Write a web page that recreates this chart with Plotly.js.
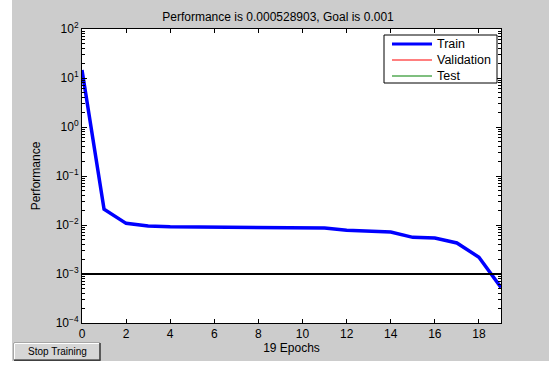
<!DOCTYPE html>
<html>
<head>
<meta charset="utf-8">
<script src="https://cdn.plot.ly/plotly-3.0.1.min.js"></script>
<style>html,body{margin:0;padding:0;background:#fff;}#chart{width:549px;height:365px;}</style>
</head>
<body>
<div id="chart"></div>
<script>
// ---- data ----
const epochs = [0,1,2,3,4,5,6,7,8,9,10,11,12,13,14,15,16,17,18,19];
const trainPerf = [14.6,0.021,0.0108,0.0095,0.0092,0.0091,0.0090,0.0090,0.0089,0.0089,0.0088,0.0087,0.0078,0.0075,0.0072,0.0056,0.0054,0.0043,0.0022,0.000529];
const goalX = [0, 19];
const goalY = [0.001, 0.001];
const seriesNames = ["Train", "Validation", "Test"];
const seriesColors = ["#0000ff", "#ff0000", "#008000"];
const xTicks = [0,2,4,6,8,10,12,14,16,18];
const yTicks = [1e-4,1e-3,1e-2,1e-1,1,10,100];
const yTickText = ["10<sup>−4</sup>","10<sup>−3</sup>","10<sup>−2</sup>","10<sup>−1</sup>","10<sup>0</sup>","10<sup>1</sup>","10<sup>2</sup>"];
const titleText = "Performance is 0.000528903, Goal is 0.001";
const xTitle = "19 Epochs";
const yTitle = "Performance";
const buttonText = "Stop Training";

// minor log ticks (2..9 in each decade)
const minorVals = [];
for (let k = -4; k < 2; k++) for (let m = 2; m <= 9; m++) minorVals.push(m * Math.pow(10, k));

const W = 549, H = 365;
const L = 82, R = 501, T = 29, B = 323;
const px = v => (v - L) / (R - L);
const py = v => (B - v) / (B - T);

const font = "Liberation Sans, Arial, sans-serif";

const traces = [
  {x: epochs, y: trainPerf, type: "scatter", mode: "lines", name: seriesNames[0], showlegend: false, line: {color: seriesColors[0], width: 3.5}},
  {x: goalX, y: goalY, type: "scatter", mode: "lines", name: "Goal", showlegend: false, line: {color: "#000000", width: 2}}
];

// legend (drawn as shapes + text in the MATLAB style)
const legShapes = [
  {type: "rect", xref: "paper", yref: "paper", x0: px(384), x1: px(497), y0: py(83), y1: py(35), fillcolor: "#ffffff", line: {color: "#000", width: 1}, layer: "above"}
];
const legAnn = [];
seriesNames.forEach((n, i) => {
  const yy = 44 + i * 16;
  legShapes.push({type: "line", xref: "paper", yref: "paper", x0: px(392), x1: px(432), y0: py(yy), y1: py(yy), line: {color: seriesColors[i], width: i === 0 ? 3 : 1.2}, layer: "above"});
  legAnn.push({text: n, xref: "paper", yref: "paper", x: px(435), y: py(yy), xanchor: "left", yanchor: "middle", showarrow: false, font: {family: font, size: 12.5, color: "#000"}});
});

const layout = {
  width: W, height: H,
  margin: {l: L, r: W - R, t: T, b: H - B, pad: 0},
  paper_bgcolor: "#cccccc",
  plot_bgcolor: "#ffffff",
  font: {family: font, size: 12, color: "#000"},
  showlegend: false,
  title: {text: titleText, font: {family: font, size: 12, color: "#000"}, x: px(278), xref: "paper", xanchor: "center", y: 1 - 17 / H, yref: "container", yanchor: "middle"},
  xaxis: {
    range: [0, 19], tickmode: "array", tickvals: xTicks, ticks: "inside", ticklen: 4, tickcolor: "#000",
    showline: true, linecolor: "#000", linewidth: 1, mirror: "ticks", showgrid: false, zeroline: false,
    tickfont: {family: font, size: 12, color: "#000"},
    title: {text: xTitle, font: {family: font, size: 12, color: "#000"}, standoff: 3}
  },
  yaxis: {
    type: "log", range: [-4, 2], tickmode: "array", tickvals: yTicks, ticktext: yTickText,
    ticks: "inside", ticklen: 5, tickcolor: "#000",
    minor: {tickmode: "array", tickvals: minorVals, ticks: "inside", ticklen: 3, tickcolor: "#000", showgrid: false},
    showline: true, linecolor: "#000", linewidth: 1, mirror: "ticks", showgrid: false, zeroline: false,
    tickfont: {family: font, size: 12, color: "#000"},
    title: {text: yTitle, font: {family: font, size: 12, color: "#000"}, standoff: 12}
  },
  shapes: [
    {type: "rect", xref: "paper", yref: "paper", x0: px(0), x1: px(12), y0: py(H), y1: py(0), fillcolor: "#ffffff", line: {width: 0}, layer: "below"},
    {type: "rect", xref: "paper", yref: "paper", x0: px(0), x1: px(W), y0: py(H), y1: py(361), fillcolor: "#ffffff", line: {width: 0}, layer: "below"},
    {type: "rect", xref: "paper", yref: "paper", x0: px(14), x1: px(100), y0: py(360), y1: py(343), fillcolor: "#d6d6d6", line: {color: "#808080", width: 1}, layer: "above"},
    {type: "line", xref: "paper", yref: "paper", x0: px(14.5), x1: px(99.5), y0: py(343.5), y1: py(343.5), line: {color: "#ffffff", width: 1}},
    {type: "line", xref: "paper", yref: "paper", x0: px(14.5), x1: px(14.5), y0: py(343.5), y1: py(359.5), line: {color: "#ffffff", width: 1}},
    {type: "line", xref: "paper", yref: "paper", x0: px(100), x1: px(100), y0: py(343), y1: py(360.5), line: {color: "#404040", width: 1.5}},
    {type: "line", xref: "paper", yref: "paper", x0: px(14), x1: px(100.5), y0: py(360.2), y1: py(360.2), line: {color: "#404040", width: 1.5}}
  ].concat(legShapes),
  annotations: [
    {text: buttonText, xref: "paper", yref: "paper", x: px(57), y: py(351.5), xanchor: "center", yanchor: "middle", showarrow: false, font: {family: font, size: 10, color: "#000"}}
  ].concat(legAnn)
};

Plotly.newPlot("chart", traces, layout, {displayModeBar: false, staticPlot: true});
</script>
</body>
</html>
